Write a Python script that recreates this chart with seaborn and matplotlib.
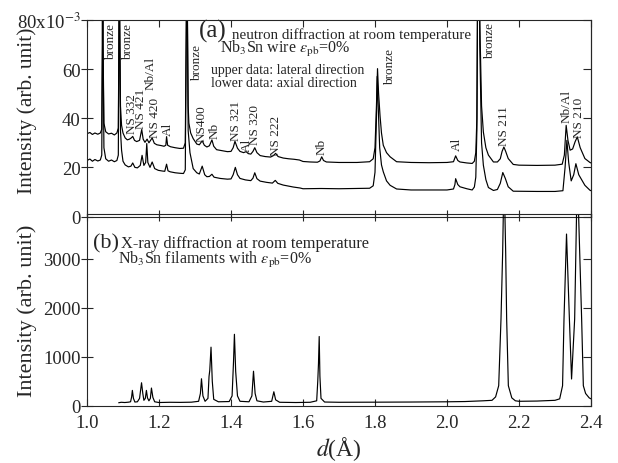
import matplotlib
matplotlib.use("Agg")
import matplotlib.pyplot as plt
import seaborn as sns
import pandas as pd


# ==============================================================================
# DATA
# ==============================================================================

# (a) neutron diffraction, upper curve = lateral direction (units of 1e-3)
d_lateral = [1.000, 1.008, 1.015, 1.022, 1.030, 1.037, 1.041, 1.0428, 1.0436, 1.0446,
             1.047, 1.052, 1.060, 1.068, 1.076, 1.083, 1.087, 1.0890, 1.0898, 1.0908,
             1.093, 1.096, 1.100, 1.106, 1.112, 1.118, 1.123, 1.127, 1.132, 1.138,
             1.146, 1.152, 1.156, 1.161, 1.167, 1.172, 1.181, 1.187, 1.194, 1.205,
             1.214, 1.219, 1.221, 1.224, 1.232, 1.245, 1.258, 1.268, 1.273, 1.2760,
             1.2775, 1.2790, 1.281, 1.283, 1.288, 1.295, 1.305, 1.312, 1.320, 1.326,
             1.333, 1.340, 1.347, 1.352, 1.360, 1.375, 1.390, 1.400, 1.406, 1.411,
             1.418, 1.425, 1.435, 1.442, 1.448, 1.455, 1.461, 1.466, 1.472, 1.481,
             1.495, 1.510, 1.518, 1.524, 1.531, 1.545, 1.560, 1.575, 1.590, 1.600,
             1.620, 1.640, 1.647, 1.652, 1.657, 1.665, 1.700, 1.750, 1.785, 1.795,
             1.800, 1.804, 1.807, 1.810, 1.814, 1.818, 1.823, 1.832, 1.842, 1.860,
             1.900, 1.950, 2.000, 2.018, 2.024, 2.030, 2.036, 2.055, 2.070, 2.076,
             2.080, 2.083, 2.086, 2.088, 2.091, 2.096, 2.101, 2.108, 2.115, 2.129,
             2.140, 2.148, 2.153, 2.158, 2.163, 2.170, 2.184, 2.200, 2.250, 2.300,
             2.320, 2.326, 2.331, 2.336, 2.342, 2.349, 2.356, 2.362, 2.370, 2.383,
             2.397, 2.400]
i_lateral = [33.7, 34.2, 33.4, 34.0, 33.5, 34.0, 35.5, 70, 200, 70,
             38.0, 34.5, 33.6, 33.9, 33.2, 34.0, 36.0, 80, 200, 80,
             45.0, 37.1, 34.0, 32.0, 31.2, 31.5, 32.0, 32.6, 31.0, 30.5,
             31.0, 35.4, 31.5, 30.2, 31.5, 30.0, 32.0, 29.8, 29.2, 28.9,
             28.6, 29.0, 32.5, 29.0, 28.4, 28.0, 27.7, 27.8, 30.0, 80,
             200, 80, 45.0, 38.0, 34.0, 31.7, 29.5, 29.2, 30.8, 29.0,
             28.3, 28.8, 31.2, 28.6, 27.2, 26.8, 26.4, 26.5, 28.0, 30.6,
             27.8, 26.5, 26.0, 26.4, 25.6, 25.4, 26.5, 28.0, 26.0, 24.8,
             24.4, 24.2, 24.8, 25.7, 24.4, 23.8, 23.5, 23.3, 23.0, 22.4,
             22.2, 22.1, 22.6, 24.3, 22.8, 22.2, 22.0, 22.0, 22.3, 23.5,
             28.0, 45.0, 60.2, 50.0, 41.0, 34.0, 29.0, 26.0, 24.3, 22.3,
             22.0, 21.9, 22.0, 22.3, 24.7, 22.8, 22.2, 21.8, 21.6, 22.5,
             26.0, 40.0, 120, 200, 80, 45.0, 34.4, 28.0, 25.0, 22.2,
             22.2, 23.5, 26.5, 28.3, 26.5, 23.6, 21.2, 20.9, 20.8, 20.9,
             21.3, 25.0, 37.1, 31.0, 27.0, 27.5, 30.5, 32.4, 28.0, 23.6,
             22.0, 21.8]

# (a) lower curve = axial direction (units of 1e-3)
d_axial = [1.000, 1.008, 1.015, 1.022, 1.030, 1.037, 1.041, 1.0428, 1.0436, 1.0446,
           1.047, 1.052, 1.060, 1.068, 1.076, 1.083, 1.087, 1.0890, 1.0898, 1.0908,
           1.093, 1.096, 1.100, 1.106, 1.115, 1.122, 1.127, 1.133, 1.140, 1.148,
           1.153, 1.158, 1.163, 1.166, 1.169, 1.175, 1.181, 1.188, 1.198, 1.210,
           1.216, 1.221, 1.225, 1.231, 1.245, 1.258, 1.268, 1.273, 1.2760, 1.2775,
           1.2790, 1.281, 1.286, 1.295, 1.305, 1.312, 1.320, 1.327, 1.333, 1.340,
           1.347, 1.353, 1.370, 1.390, 1.400, 1.406, 1.412, 1.418, 1.425, 1.440,
           1.455, 1.461, 1.466, 1.472, 1.481, 1.499, 1.515, 1.523, 1.530, 1.545,
           1.573, 1.592, 1.600, 1.650, 1.700, 1.785, 1.795, 1.800, 1.804, 1.806,
           1.809, 1.813, 1.818, 1.823, 1.832, 1.842, 1.860, 1.900, 2.000, 2.018,
           2.022, 2.024, 2.030, 2.036, 2.055, 2.070, 2.076, 2.080, 2.083, 2.086,
           2.088, 2.091, 2.096, 2.101, 2.108, 2.115, 2.129, 2.140, 2.148, 2.155,
           2.162, 2.170, 2.184, 2.250, 2.300, 2.322, 2.328, 2.333, 2.338, 2.345,
           2.352, 2.358, 2.366, 2.383, 2.397, 2.400]
i_axial = [22.8, 23.4, 22.5, 23.2, 22.6, 23.0, 25.0, 70, 200, 70,
           28.0, 23.5, 22.5, 23.0, 22.3, 22.8, 25.0, 80, 200, 80,
           35.0, 27.0, 22.5, 21.0, 20.2, 20.5, 21.8, 20.0, 19.8, 20.8,
           24.9, 20.8, 22.0, 29.7, 22.0, 20.0, 22.2, 19.5, 18.8, 18.5,
           18.4, 21.3, 18.6, 18.2, 17.8, 17.6, 17.5, 19.0, 80, 200,
           80, 35.0, 26.0, 19.5, 17.8, 17.3, 20.5, 17.0, 16.2, 16.3,
           17.2, 16.0, 15.5, 15.2, 15.3, 17.0, 20.0, 17.0, 15.5, 14.9,
           14.6, 15.6, 17.8, 15.4, 14.4, 13.9, 13.6, 14.7, 13.5, 12.8,
           12.0, 11.6, 11.3, 11.4, 11.3, 11.5, 12.5, 18.0, 40.0, 57.0,
           45.0, 28.0, 21.0, 18.2, 14.5, 12.7, 11.2, 10.8, 10.8, 11.2,
           13.0, 15.4, 13.0, 12.1, 11.3, 10.8, 12.0, 16.0, 35.0, 120,
           200, 70, 30.0, 20.9, 15.0, 11.8, 10.6, 11.0, 13.5, 17.9,
           15.5, 12.1, 10.3, 10.2, 10.2, 10.5, 20.0, 31.0, 22.0, 14.5,
           17.0, 21.5, 17.0, 12.7, 10.7, 10.5]

# (b) X-ray diffraction of the Nb3Sn filaments
d_xray = [1.088, 1.095, 1.105, 1.115, 1.121, 1.124, 1.126, 1.129, 1.133, 1.140,
          1.146, 1.1515, 1.155, 1.158, 1.162, 1.165, 1.168, 1.172, 1.176, 1.179,
          1.183, 1.188, 1.200, 1.230, 1.260, 1.290, 1.310, 1.315, 1.318, 1.322,
          1.328, 1.336, 1.339, 1.341, 1.3445, 1.348, 1.352, 1.365, 1.395, 1.403,
          1.407, 1.4095, 1.413, 1.418, 1.425, 1.450, 1.458, 1.4625, 1.467, 1.472,
          1.490, 1.513, 1.519, 1.524, 1.535, 1.580, 1.620, 1.638, 1.641, 1.643,
          1.645, 1.647, 1.650, 1.660, 1.700, 1.800, 1.900, 2.000, 2.050, 2.100,
          2.125, 2.135, 2.1436, 2.150, 2.1546, 2.1585, 2.163, 2.1657, 2.1704, 2.180,
          2.190, 2.200, 2.250, 2.300, 2.313, 2.321, 2.325, 2.332, 2.340, 2.346,
          2.3546, 2.362, 2.374, 2.3787, 2.385, 2.395, 2.400]
i_xray = [60, 70, 65, 72, 80, 180, 313, 150, 75, 80,
          150, 469, 250, 110, 150, 313, 160, 100, 150, 361,
          170, 80, 65, 70, 68, 72, 90, 250, 551, 200,
          90, 150, 600, 721, 1197, 500, 130, 80, 85, 200,
          900, 1460, 700, 200, 90, 80, 200, 705, 250, 100,
          75, 90, 285, 120, 70, 65, 70, 100, 500, 860,
          1415, 600, 150, 75, 70, 72, 75, 80, 85, 100,
          110, 180, 409, 1773, 3137, 4800, 3137, 1773, 409, 160,
          100, 90, 95, 110, 140, 409, 1773, 3510, 1773, 546,
          1773, 4800, 1773, 409, 250, 160, 140]

# peak names in panel (a): label, d position, bottom of the text (1e-3)
peak_names = ["bronze", "bronze", "NS 332", "NS 421", "Nb/Al", "NS 420", "Al",
              "bronze", "NS400", "Nb", "NS 321", "Al", "NS 320", "NS 222",
              "Nb", "bronze", "Al", "bronze", "NS 211", "Nb/Al", "NS 210"]
peak_d = [1.067, 1.114, 1.126, 1.151, 1.177, 1.188, 1.226,
          1.305, 1.319, 1.354, 1.413, 1.443, 1.468, 1.525,
          1.652, 1.842, 2.027, 2.119, 2.159, 2.332, 2.368]
peak_v = [64.0, 64.0, 34.0, 36.0, 52.0, 32.4, 33.0,
          55.4, 30.7, 32.0, 31.3, 26.8, 29.7, 25.0,
          25.6, 54.0, 27.0, 64.5, 29.0, 38.5, 32.4]

x_ticks = [1.0, 1.2, 1.4, 1.6, 1.8, 2.0, 2.2, 2.4]
a_ticks = [0, 20, 40, 60, 80]
a_tick_labels = ["0", "20", "40", "60", "80x10$^{-3}$"]
b_ticks = [0, 1000, 2000, 3000]


# ==============================================================================
# FIGURE
# ==============================================================================

sns.set_style("ticks")
plt.rcParams["font.family"] = ["Liberation Serif", "DejaVu Serif"]
plt.rcParams["mathtext.fontset"] = "stix"
plt.rcParams["axes.linewidth"] = 0.8

W, H = 618, 464
fig = plt.figure(figsize=(W / 100, H / 100), dpi=100)

ax_a = fig.add_axes([87 / W, 1 - 217.5 / H, 504 / W, 196.5 / H])
ax_b = fig.add_axes([87 / W, 1 - 406.7 / H, 504 / W, 191.7 / H])

df_lat = pd.DataFrame({"d": d_lateral, "I": i_lateral})
df_ax = pd.DataFrame({"d": d_axial, "I": i_axial})
df_x = pd.DataFrame({"d": d_xray, "I": i_xray})

line_kw = dict(color="black", linewidth=0.85, estimator=None, sort=False, legend=False)
sns.lineplot(data=df_lat, x="d", y="I", ax=ax_a, **line_kw)
sns.lineplot(data=df_ax, x="d", y="I", ax=ax_a, **line_kw)
sns.lineplot(data=df_x, x="d", y="I", ax=ax_b, **line_kw)

for ax in (ax_a, ax_b):
    ax.patch.set_visible(False)
    ax.set_xlim(1.0, 2.4)
    ax.set_xticks(x_ticks)
    ax.tick_params(axis="x", direction="in", length=5, width=0.8, top=True,
                   labelsize=13.5, pad=6)
    ax.tick_params(axis="y", direction="inout", length=9, width=0.8,
                   labelsize=13.5, pad=0)
    ax.set_xlabel("")
    right = ax.secondary_yaxis("right")
    right.tick_params(direction="in", length=5.5, width=0.8, labelright=False)

ax_a.set_ylim(0, 80)
ax_a.set_yticks(a_ticks)
ax_a.set_yticklabels(a_tick_labels)
ax_a.tick_params(axis="x", labelbottom=False)
ax_a.set_ylabel("Intensity (arb. unit)", fontsize=15.5)
ax_a.yaxis.set_label_coords(-0.099, 0.545)

ax_b.set_ylim(0, 3920)
ax_b.set_yticks(b_ticks)
ax_b.set_ylabel("Intensity (arb. unit)", fontsize=16)
ax_b.yaxis.set_label_coords(-0.099, 0.5)
ax_b.set_xticklabels([f"{t:.1f}" for t in x_ticks])
ax_b.set_xlabel("$d$(Å)", fontsize=17, labelpad=2)

# right axis ticks follow the main ones
for ax in (ax_a, ax_b):
    for child in ax.child_axes:
        child.set_yticks(ax.get_yticks())

# peak names
for name, d, v in zip(peak_names, peak_d, peak_v):
    ax_a.text(d, v, name, rotation=90, ha="center", va="bottom", fontsize=9.5)


def fig_text(px, py, s, **kw):
    fig.text(px / W, 1 - py / H, s, va="baseline", **kw)


fig_text(199, 38, "(a)", fontsize=18)
fig_text(232, 39, "neutron diffraction at room temperature", fontsize=10.8)
fig_text(220, 53, r"Nb$_3$Sn wire $\varepsilon_{\mathrm{pb}}$=0%", fontsize=11.5)
fig_text(211, 74, "upper data: lateral direction", fontsize=10)
fig_text(211, 87, "lower data: axial direction", fontsize=10)

fig_text(93, 248, "(b)", fontsize=16)
fig_text(121, 248, "X-ray diffraction at room temperature", fontsize=11.8)
fig_text(118, 264, r"Nb$_3$Sn filaments with $\varepsilon_{\mathrm{pb}}$=0%", fontsize=11.5)

fig.savefig("out.png", dpi=100)
